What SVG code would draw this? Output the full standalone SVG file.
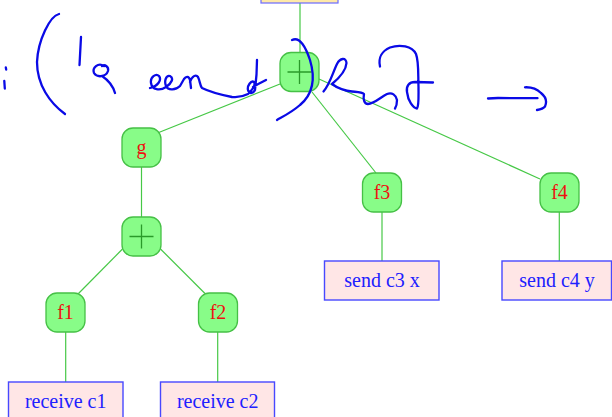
<svg xmlns="http://www.w3.org/2000/svg" width="612" height="417" viewBox="0 0 612 417">
  <style>
    .node { fill: #88fc88; stroke: #46c046; stroke-width: 1.3; }
    .box { fill: #ffe6e6; stroke: #4848ff; stroke-width: 1.4; }
    .topbox { fill: #ffe9a8; stroke: #6a6aff; stroke-width: 1.2; }
    .edge { stroke: #46c846; stroke-width: 1.2; fill: none; }
    .plus { stroke: #2a9a2a; stroke-width: 1.3; fill: none; }
    .nlabel { font-family: "Liberation Serif", "Times New Roman", serif; font-size: 20px; fill: #ee1111; text-anchor: middle; }
    .blabel { font-family: "Liberation Serif", "Times New Roman", serif; font-size: 20px; fill: #2020ff; text-anchor: middle; }
    .ink { stroke: #0a0ae6; stroke-width: 2.3; fill: none; stroke-linecap: round; stroke-linejoin: round; }
  </style>

  <g id="connectors">
    <line class="edge" x1="300" y1="3" x2="300" y2="52"/>
    <line class="edge" x1="280" y1="84" x2="155" y2="134"/>
    <line class="edge" x1="312" y1="92" x2="376" y2="173"/>
    <line class="edge" x1="319" y1="79" x2="540" y2="179"/>
    <line class="edge" x1="141.5" y1="167" x2="141.5" y2="217"/>
    <line class="edge" x1="122.5" y1="249" x2="78.5" y2="293.5"/>
    <line class="edge" x1="160.5" y1="249" x2="205" y2="293.5"/>
    <line class="edge" x1="65.7" y1="332" x2="65.7" y2="382"/>
    <line class="edge" x1="217.7" y1="332" x2="217.7" y2="382"/>
    <line class="edge" x1="382" y1="212" x2="382" y2="261"/>
    <line class="edge" x1="559.3" y1="212" x2="559.3" y2="261"/>
  </g>

  <g id="top">
    <rect class="topbox" x="261" y="-20" width="77" height="23"/>
  </g>

  <g id="plus1">
    <rect class="node" x="280" y="52.5" width="39" height="39" rx="11"/>
    <path class="plus" d="M287.5,72 H311.5 M299.5,60 V84"/>
  </g>

  <g id="g">
    <rect class="node" x="122" y="128" width="39" height="39" rx="11"/>
    <text class="nlabel" x="141.5" y="154">g</text>
  </g>

  <g id="plus2">
    <rect class="node" x="122" y="217" width="39" height="39" rx="11"/>
    <path class="plus" d="M129.5,236.5 H153.5 M141.5,224.5 V248.5"/>
  </g>

  <g id="f1">
    <rect class="node" x="46" y="293" width="39" height="39" rx="11"/>
    <text class="nlabel" x="65.5" y="319">f1</text>
  </g>

  <g id="f2">
    <rect class="node" x="198.5" y="293" width="39" height="39" rx="11"/>
    <text class="nlabel" x="218" y="319">f2</text>
  </g>

  <g id="f3">
    <rect class="node" x="362.5" y="173" width="39" height="39" rx="11"/>
    <text class="nlabel" x="382" y="199">f3</text>
  </g>

  <g id="f4">
    <rect class="node" x="540" y="173" width="39" height="39" rx="11"/>
    <text class="nlabel" x="559.5" y="199">f4</text>
  </g>

  <g id="recv1">
    <rect class="box" x="8.5" y="382" width="114.5" height="40"/>
    <text class="blabel" x="65.7" y="408">receive c1</text>
  </g>

  <g id="recv2">
    <rect class="box" x="160.5" y="382" width="114" height="40"/>
    <text class="blabel" x="217.7" y="408">receive c2</text>
  </g>

  <g id="send3">
    <rect class="box" x="324.5" y="261" width="114.5" height="39"/>
    <text class="blabel" x="382" y="287">send c3 x</text>
  </g>

  <g id="send4">
    <rect class="box" x="502" y="261" width="109.5" height="39"/>
    <text class="blabel" x="557" y="287">send c4 y</text>
  </g>

  <g id="ink-annotation">
    <path class="ink" d="M5.8,67.5 L6.2,69.5 M4.3,81 L4.8,88.5"/>
    <path class="ink" d="M59,14 C50,16 38,40 37,62 C37,85 50,103 65,114"/>
    <path class="ink" d="M81,37 L79.5,65"/>
    <path class="ink" d="M104,66 C98,62 92,68 94,73 C97,78 106,77 108,71 C109,67 105,64 102,66 M102,76 C108,80 113,86 115,93"/>
    <path class="ink" d="M150,88 C158,86 162,80 159,76 C156,73 150,77 151,83 C152,90 160,91 166,87 C172,83 174,78 170,76 C166,75 164,81 166,86 C168,91 176,90 180,86 L184,79 C186,76 189,76 190,80 L191,88 M190,82 C192,76 196,74 198,77 C200,81 200,86 202,88 C210,92 222,95 232,97 C240,98 244,96 248,94 C252,90 256,85 254,82 C251,80 247,86 248,90 C249,94 253,94 255,90 C256,82 257,70 257,60 M253,87 C258,84 262,82 266,80"/>
    <path class="ink" d="M292,40 C300,36 306,48 310,60 C316,80 312,95 300,105 C292,112 284,116 277,120"/>
    <path class="ink" d="M323.5,91.5 C330,84 333,72 337,64 C340,58 346,57 346.5,63 C346,71 338,79 332,84 C337,88 346,91 352,91.5 C357,92 362,92 364,94 C363,99 364,104 368,104 C374,104 381,97 387,94 C392,92 396,95 397,100 C397,104 396,107 395,108.5"/>
    <path class="ink" d="M380,66.5 C378,58 382,51 390,47.5 C400,44 412,46 416,54 C419,62 418,75 418.5,87 C418.5,98 419,106 417,108.5 C413,108 408,101 407,92 C406,86 409,82 415,82 L433,82.5"/>
    <path class="ink" d="M488,98.5 L498,98 L537.5,98.2 M525,87.3 C532,87 537,89 541,93 C546,97 547,102 545,106.5 C543,109 540,109.5 537,110"/>
  </g>
</svg>
